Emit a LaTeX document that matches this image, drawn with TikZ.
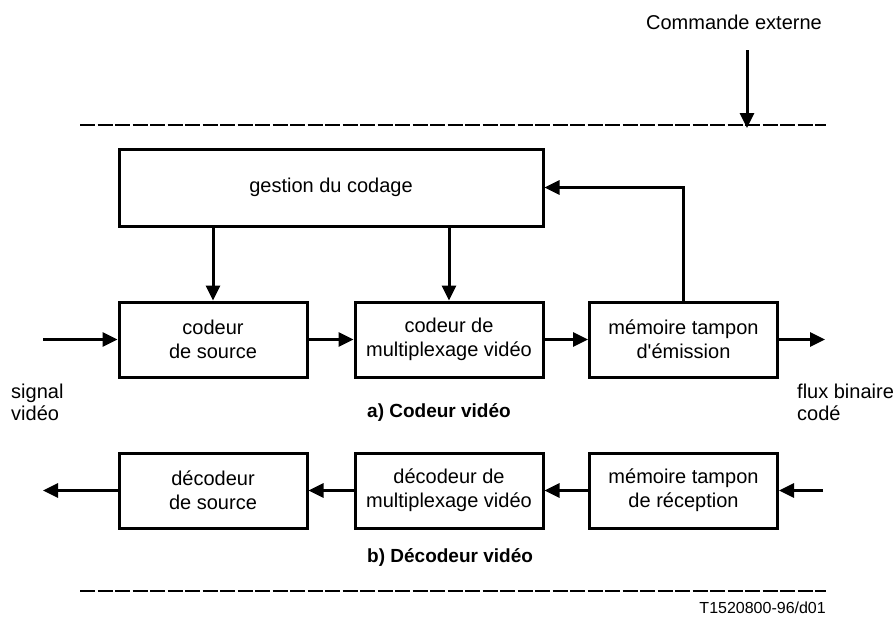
\documentclass[tikz,border=0pt]{standalone}
\usepackage{fontspec}
\setmainfont{Liberation Sans}
\usetikzlibrary{arrows.meta}
\begin{document}
\begin{tikzpicture}[x=1pt,y=-1pt,
  blk/.style={draw,line width=3pt,minimum width=188pt,minimum height=75pt,inner sep=0pt,align=center,font=\fontsize{20}{24}\selectfont},
  lbl/.style={inner sep=0pt,align=left,font=\fontsize{20}{22}\selectfont},
  ttl/.style={inner sep=0pt,font=\fontsize{19}{24}\selectfont\bfseries},
  conn/.style={line width=3pt,-{Triangle[length=15pt,width=14pt]}},
  sep/.style={line width=2pt,dash pattern=on 15pt off 2.5pt}]
\useasboundingbox (0,0) rectangle (896,624);
% separators
\coordinate (s1a) at (80,125); \coordinate (s1b) at (826,125);
\coordinate (s2a) at (80,591); \coordinate (s2b) at (826,591);
\draw[sep] (s1a) -- (s1b);
\draw[sep] (s2a) -- (s2b);
% external command
\node[lbl] (cmd) at (734,22) {Commande externe};
\coordinate (cmdtop) at (747,50);
\coordinate (cmdbot) at (747,128);
\draw[conn] (cmdtop) -- (cmdbot);
% encoder
\node[blk,minimum width=424pt,minimum height=77pt] (gest) at (331,187.5) {gestion du codage};
\node[blk] (cs) at (213,339.5) {codeur\\de source};
\node[blk] (cm) at (449,339.5) {codeur de\\multiplexage vidéo};
\node[blk] (mt) at (683.5,339.5) {mémoire tampon\\d\textquotesingle émission};
\coordinate (in) at (43,339.5);
\coordinate (out) at (825,339.5);
\draw[conn] (in) -- (cs.west);
\draw[conn] (cs.east) -- (cm.west);
\draw[conn] (cm.east) -- (mt.west);
\draw[conn] (mt.east) -- (out);
\draw[conn] (gest.south -| cs.north) -- (cs.north);
\draw[conn] (gest.south -| cm.north) -- (cm.north);
\draw[conn] (mt.north) |- (gest.east);
\node[lbl,anchor=west] (sig) at (11,402) {signal\\vidéo};
\node[lbl,anchor=west] (flux) at (797,402) {flux binaire\\codé};
\node[ttl,anchor=west] (ta) at (367,412) {a) Codeur vidéo};
% decoder
\node[blk] (ds) at (213,490.5) {décodeur\\de source};
\node[blk] (dm) at (449,490.5) {décodeur de\\multiplexage vidéo};
\node[blk] (mr) at (683.5,490.5) {mémoire tampon\\de réception};
\coordinate (din) at (823,490.5);
\coordinate (dout) at (43,490.5);
\draw[conn] (din) -- (mr.east);
\draw[conn] (mr.west) -- (dm.east);
\draw[conn] (dm.west) -- (ds.east);
\draw[conn] (ds.west) -- (dout);
\node[ttl,anchor=west] (tb) at (367,557) {b) Décodeur vidéo};
\node[inner sep=0pt,anchor=east,font=\fontsize{16}{18}\selectfont] (ref) at (826,608) {T1520800-96/d01};
\end{tikzpicture}
\end{document}
